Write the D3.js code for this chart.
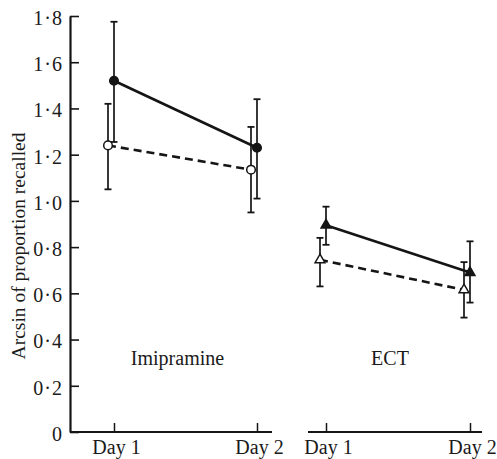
<!DOCTYPE html>
<html><head><meta charset="utf-8">
<script src="https://cdn.jsdelivr.net/npm/d3@7"></script>
<style>
body{margin:0;background:#fff;}
svg text{font-family:"Liberation Serif","DejaVu Serif",serif;fill:#1a1a1a;}
</style></head>
<body><svg id="c" width="497" height="459"></svg>
<script>
const days = ["Day 1", "Day 2"];
const yTicks = [0, 0.2, 0.4, 0.6, 0.8, 1.0, 1.2, 1.4, 1.6, 1.8];
const panels = ["Imipramine", "ECT"];

// Imipramine
const imiFilledMean = [1.52, 1.23];
const imiFilledHi = [1.775, 1.44];
const imiFilledLo = [1.255, 1.01];
const imiOpenMean = [1.24, 1.135];
const imiOpenHi = [1.42, 1.32];
const imiOpenLo = [1.05, 0.95];
// ECT
const ectFilledMean = [0.895, 0.69];
const ectFilledHi = [0.975, 0.825];
const ectFilledLo = [0.81, 0.56];
const ectOpenMean = [0.745, 0.615];
const ectOpenHi = [0.84, 0.735];
const ectOpenLo = [0.63, 0.495];

const yLabel = "Arcsin of proportion recalled";

const svg = d3.select("#c");
const ink = "#151515";
const y = d3.scaleLinear().domain([0, 1.8]).range([432, 16]);

const fmt = v => v === 0 ? "0" : d3.format(".1f")(v).replace(".", "\u00b7");

// Y axis
const yAxis = svg.append("g").attr("transform", "translate(70,0)")
  .call(d3.axisLeft(y).tickValues(yTicks).tickFormat(fmt).tickSizeInner(-9).tickSizeOuter(0).tickPadding(7));
yAxis.select(".domain").attr("stroke", ink).attr("stroke-width", 2.2);
yAxis.selectAll(".tick line").attr("stroke", ink).attr("stroke-width", 1.6);
yAxis.selectAll(".tick text").attr("font-size", 20).attr("fill", ink)
  .attr("font-family", "Liberation Serif").attr("letter-spacing", 1).attr("dy", "0.42em");

svg.append("text")
  .attr("transform", `translate(25,${(y(0.31) + y(1.3)) / 2}) rotate(-90)`)
  .attr("text-anchor", "middle").attr("font-size", 19.5).text(yLabel);

const panelDefs = [
  { name: panels[0], range: [114, 257], left: 44, right: 15,
    filled: [imiFilledMean, imiFilledHi, imiFilledLo], open: [imiOpenMean, imiOpenHi, imiOpenLo], shape: "circle" },
  { name: panels[1], range: [326, 470], left: 18, right: 12,
    filled: [ectFilledMean, ectFilledHi, ectFilledLo], open: [ectOpenMean, ectOpenHi, ectOpenLo], shape: "triangle" }
];

const openOffset = -6;

panelDefs.forEach(p => {
  const x = d3.scalePoint().domain(days).range(p.range).padding(0);
  const g = svg.append("g");
  // x axis line
  g.append("line")
    .attr("x1", x(days[0]) - p.left).attr("x2", x(days[1]) + p.right)
    .attr("y1", y(0)).attr("y2", y(0))
    .attr("stroke", ink).attr("stroke-width", 2.2);
  const xa = g.append("g").attr("transform", `translate(0,${y(0)})`)
    .call(d3.axisBottom(x).tickSizeInner(-9).tickSizeOuter(0).tickPadding(8));
  xa.select(".domain").remove();
  xa.selectAll(".tick line").attr("stroke", ink).attr("stroke-width", 1.5);
  xa.selectAll(".tick text").attr("font-size", 20).attr("fill", ink)
    .attr("font-family", "Liberation Serif").attr("dx", 2);

  // panel label
  g.append("text").attr("x", (x(days[0]) + x(days[1])) / 2 - 8).attr("y", y(0.29))
    .attr("text-anchor", "middle").attr("font-size", 20).text(p.name);

  const series = [
    { vals: p.open, off: openOffset, dash: "8,5", fill: "#fff" },
    { vals: p.filled, off: 0, dash: null, fill: ink }
  ];
  // lines
  series.forEach(s => {
    const pts = days.map((d, i) => [x(d) + s.off, y(s.vals[0][i])]);
    g.append("path").attr("d", d3.line()(pts))
      .attr("fill", "none").attr("stroke", ink).attr("stroke-width", 2.6)
      .attr("stroke-dasharray", s.dash);
  });
  // error bars
  series.forEach(s => {
    days.forEach((d, i) => {
      const cx = x(d) + s.off;
      g.append("line").attr("x1", cx).attr("x2", cx)
        .attr("y1", y(s.vals[1][i])).attr("y2", y(s.vals[2][i]))
        .attr("stroke", ink).attr("stroke-width", 1.7);
      [1, 2].forEach(k => {
        g.append("line").attr("x1", cx - 3.5).attr("x2", cx + 3.5)
          .attr("y1", y(s.vals[k][i])).attr("y2", y(s.vals[k][i]))
          .attr("stroke", ink).attr("stroke-width", 1.8);
      });
    });
  });
  // markers
  series.forEach(s => {
    days.forEach((d, i) => {
      const cx = x(d) + s.off, cy = y(s.vals[0][i]);
      if (p.shape === "circle") {
        g.append("circle").attr("cx", cx).attr("cy", cy).attr("r", 4.3)
          .attr("fill", s.fill).attr("stroke", ink).attr("stroke-width", 1.5);
      } else {
        g.append("path")
          .attr("d", d3.symbol(d3.symbolTriangle, 42)())
          .attr("transform", `translate(${cx},${cy})`)
          .attr("fill", s.fill).attr("stroke", ink).attr("stroke-width", 1.5);
      }
    });
  });
});
</script></body></html>
